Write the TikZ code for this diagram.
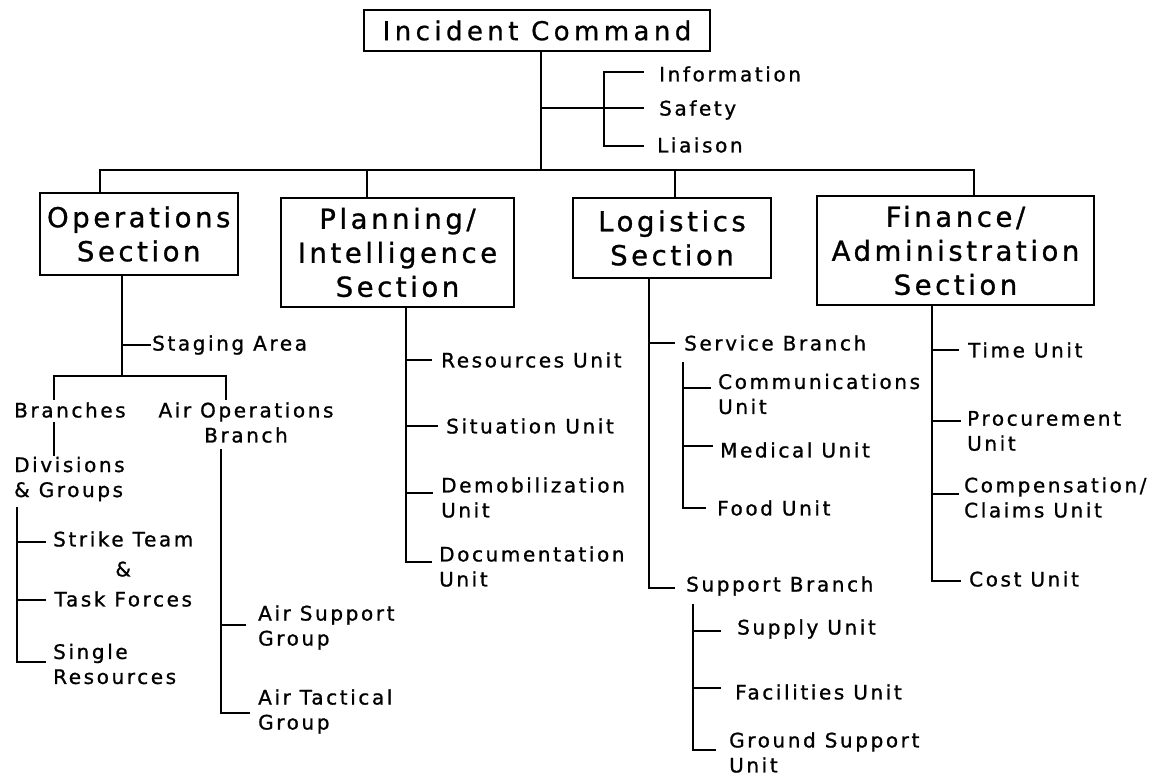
\documentclass[tikz,border=0pt]{standalone}
\usepackage{fontspec}
\setmainfont{DejaVu Sans}
\newfontfamily\lblfont{DejaVu Sans}[LetterSpace=13,FakeBold=1]
\newfontfamily\icfont{DejaVu Sans}[LetterSpace=17,FakeBold=0.8]
\tikzset{
  ln/.style={line width=2.3pt, line cap=rect},
  lbl/.style={font=\lblfont\fontsize{20}{25}\selectfont, inner sep=0pt, anchor=west, align=left},
  sec/.style={draw, line width=2pt, font=\lblfont\fontsize{27.5}{34}\selectfont, align=center, inner sep=0pt},
}
\begin{document}
\begin{tikzpicture}[x=1pt,y=-1pt]
\useasboundingbox (0,0) rectangle (1157,778);
\fill[white] (0,0) rectangle (1157,778);

% boxes
\node[sec, font=\icfont\fontsize{26}{34}\selectfont, minimum width=346pt, minimum height=41pt] (ic) at (537,30.5) {Incident Command};
\node[sec, minimum width=197.5pt, minimum height=82pt] (ops) at (138.75,234) {Operations\\Section};
\node[sec, minimum width=233pt, minimum height=109pt] (plan) at (397.5,252.5) {Planning/\\Intelligence\\Section};
\node[sec, minimum width=198pt, minimum height=80pt] (log) at (672,238) {Logistics\\Section};
\node[sec, minimum width=277pt, minimum height=109pt] (fin) at (955.5,250.5) {Finance/\\Administration\\Section};

% command staff
\node[lbl] (info) at (659,74) {Information};
\node[lbl] (safety) at (659,110) {Safety};
\node[lbl] (liaison) at (657,145) {Liaison};

% operations
\node[lbl] (staging) at (152,345) {Staging Area};
\node[lbl] (branches) at (14,410) {Branches};
\node[lbl, anchor=center, align=center] (airops) at (246,422.5) {Air Operations\\Branch};
\node[lbl] (divs) at (14,479) {Divisions\\\& Groups};
\node[lbl, align=center, font=\lblfont\fontsize{20}{30}\selectfont] (strike) at (53,569) {Strike Team\\\&\\Task Forces};
\node[lbl] (single) at (53,664) {Single\\Resources};
\node[lbl] (airsup) at (258,627.5) {Air Support\\Group};
\node[lbl] (airtac) at (258,711.5) {Air Tactical\\Group};

% planning
\node[lbl] (resu) at (441,360) {Resources Unit};
\node[lbl] (situ) at (446,426) {Situation Unit};
\node[lbl] (demob) at (441,497.5) {Demobilization\\Unit};
\node[lbl] (docu) at (439,566.5) {Documentation\\Unit};

% logistics
\node[lbl] (service) at (684,343) {Service Branch};
\node[lbl] (comm) at (718,394) {Communications\\Unit};
\node[lbl] (medical) at (720,450) {Medical Unit};
\node[lbl] (food) at (717,508) {Food Unit};
\node[lbl] (support) at (686,586) {Support Branch};
\node[lbl] (supply) at (737,629) {Supply Unit};
\node[lbl] (facil) at (735,692) {Facilities Unit};
\node[lbl] (ground) at (729,752.5) {Ground Support\\Unit};

% finance
\node[lbl] (time) at (968,350) {Time Unit};
\node[lbl] (procure) at (967,431) {Procurement\\Unit};
\node[lbl] (comp) at (964,497.5) {Compensation/\\Claims Unit};
\node[lbl] (cost) at (969,579) {Cost Unit};

% trunk coordinates
\coordinate (icJ) at (541,170);
\coordinate (opsX) at (122,0);
\coordinate (planX) at (406,0);
\coordinate (logX) at (649,0);
\coordinate (finX) at (932,0);

% incident command connectors
\draw[ln] (ic.south -| icJ) -- (icJ);
\draw[ln] (541,108) -- ([xshift=-16pt]safety.west |- 0,108);
\draw[ln] ([xshift=-16pt]info.west |- 0,72) -- (604,72) -- (604,146) -- ([xshift=-14pt]liaison.west |- 0,146);
\draw[ln] (100,170) -- (974,170);
\draw[ln] (100,170) -- (ops.north -| 100,0);
\draw[ln] (367,170) -- (plan.north -| 367,0);
\draw[ln] (675,170) -- (log.north -| 675,0);
\draw[ln] (974,170) -- (fin.north -| 974,0);

% operations connectors
\draw[ln] (ops.south -| opsX) -- (122,376);
\draw[ln] (122,345) -- ([xshift=-2pt]staging.west);
\draw[ln] (54,376) -- (226,376);
\draw[ln] (54,376) -- (54,399);
\draw[ln] (226,376) -- (226,399);
\draw[ln] (54,423) -- (54,455);
\draw[ln] (17,508) -- (17,662) -- (45,662);
\draw[ln] (17,542) -- (45,542);
\draw[ln] (17,600) -- (45,600);
\draw[ln] (221,450) -- (221,713) -- (249,713);
\draw[ln] (221,625) -- (245,625);

% planning connectors
\draw[ln] (plan.south -| planX) -- (406,562) -- (431,562);
\draw[ln] (406,360) -- ([xshift=-10pt]resu.west);
\draw[ln] (406,426) -- ([xshift=-9pt]situ.west);
\draw[ln] (406,493) -- (432,493);

% logistics connectors
\draw[ln] (log.south -| logX) -- (649,588) -- (674,588);
\draw[ln] (649,343) -- ([xshift=-10pt]service.west);
\draw[ln] (683,363) -- (683,508) -- ([xshift=-12pt]food.west);
\draw[ln] (683,388) -- (710,388);
\draw[ln] (683,446) -- (712,446);
\draw[ln] (693,605) -- (693,750) -- (715,750);
\draw[ln] (693,631) -- (720,631);
\draw[ln] (693,688) -- (720,688);

% finance connectors
\draw[ln] (fin.south -| finX) -- (932,581) -- (960,581);
\draw[ln] (932,350) -- ([xshift=-10pt]time.west);
\draw[ln] (932,421) -- (960,421);
\draw[ln] (932,494) -- (958,494);
\end{tikzpicture}
\end{document}
